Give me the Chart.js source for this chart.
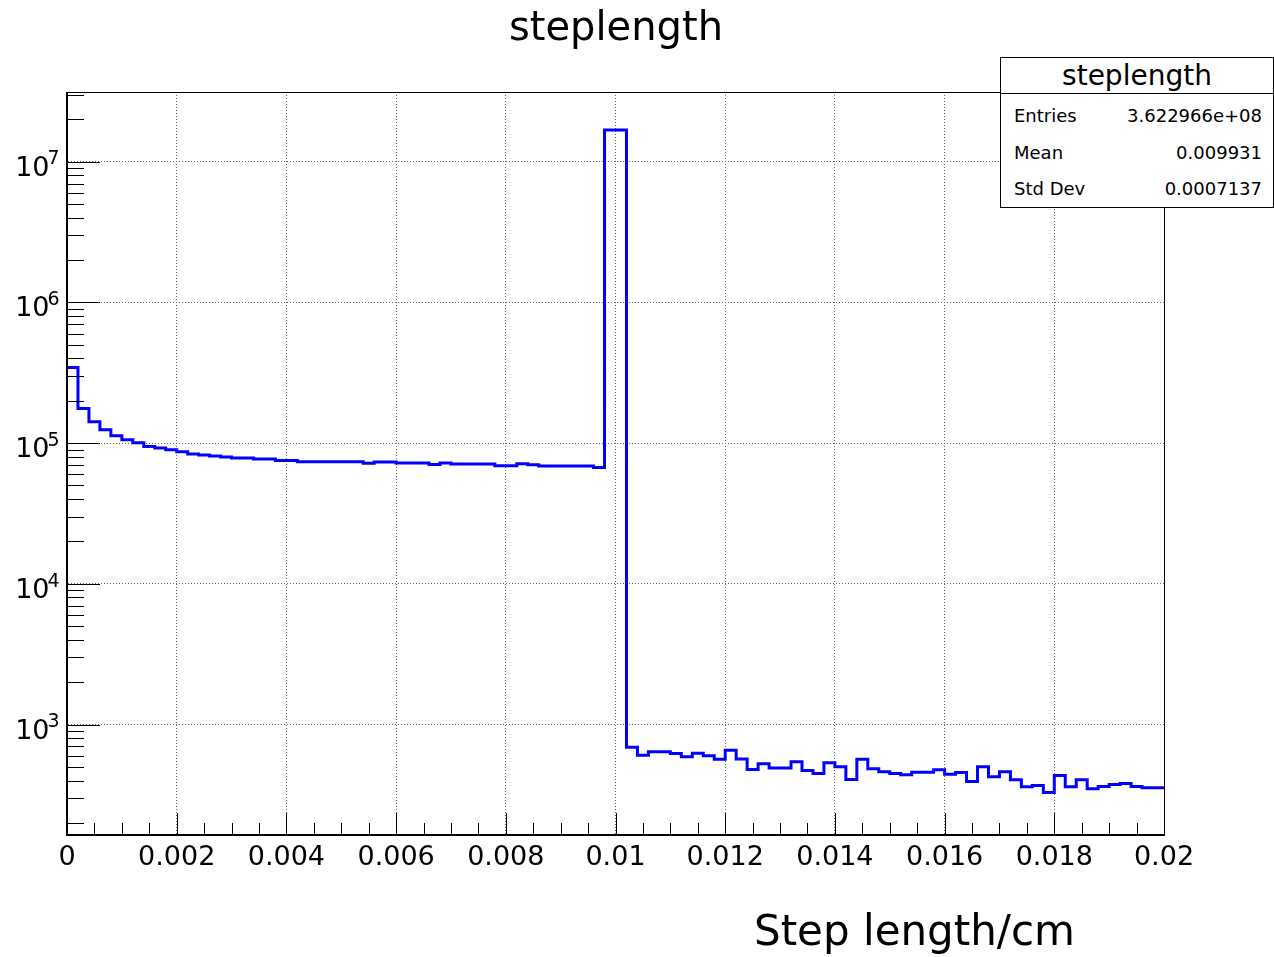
<!DOCTYPE html>
<html>
<head>
<meta charset="utf-8">
<script src="https://cdn.jsdelivr.net/npm/chart.js@4/dist/chart.umd.min.js"></script>
<style>
  body { margin: 0; background: #fff; }
  #wrap { position: relative; width: 1274px; height: 957px; font-family: "DejaVu Sans", sans-serif; color: #000; }
  #wrap canvas { position: absolute; left: 0; top: 0; }
  .txt { position: absolute; white-space: nowrap; line-height: 1; }
  #stats { position: absolute; left: 1000px; top: 57px; width: 274px; height: 151px; box-sizing: border-box;
           border: 1px solid #000; background: #fff; }
  #stats .head { height: 35px; line-height: 35px; font-size: 28px; text-align: center; border-bottom: 1px solid #000; }
  #stats .row { position: absolute; left: 13px; right: 11px; font-size: 18px; line-height: 19px; }
  #stats .row span { float: right; }
</style>
</head>
<body>
<div id="wrap">
  <canvas id="myChart" width="1274" height="957"></canvas>
  <div class="txt" style="left:416px; width:400px; top:6px; font-size:40px; text-align:center;">steplength</div>
  <div class="txt" style="left:0; width:1075px; top:910px; font-size:42px; text-align:right;">Step length/cm</div>
  <div id="stats">
    <div class="head">steplength</div>
    <div class="row" style="top:48px">Entries<span>3.622966e+08</span></div>
    <div class="row" style="top:85px">Mean<span>0.009931</span></div>
    <div class="row" style="top:121px">Std Dev<span>0.0007137</span></div>
  </div>
</div>
<script>
// histogram: 100 bins from 0 to 0.02 cm
const binWidth = 0.0002
const counts = [
  345000, 176000, 142000, 124500, 113000, 105700, 100600, 94800, 92300, 89800,
  86900, 83700, 82300, 80900, 79700, 78400, 78400, 77100, 77100, 75400,
  75400, 73800, 73800, 73800, 73800, 73800, 73800, 71800, 73400, 73400,
  72200, 72200, 72200, 70600, 72200, 71100, 71100, 71100, 71100, 69100,
  69100, 71400, 70300, 68800, 68800, 68800, 68800, 68800, 67200, 16800000,
  16800000, 690, 605, 640, 640, 622, 590, 625, 600, 567,
  657, 570, 479, 526, 490, 490, 543, 471, 449, 535,
  501, 407, 567, 485, 461, 449, 439, 458, 458, 477,
  444, 456, 394, 501, 425, 461, 405, 361, 369, 329,
  434, 361, 405, 349, 363, 375, 381, 363, 355, 355
]
const xTickValues = [0, 0.002, 0.004, 0.006, 0.008, 0.01, 0.012, 0.014, 0.016, 0.018, 0.02]
const xTickLabels = ['0', '0.002', '0.004', '0.006', '0.008', '0.01', '0.012', '0.014', '0.016', '0.018', '0.02']
const yTickExponents = [3, 4, 5, 6, 7]

const xMin = 0, xMax = 0.02
const yMin = 164, yMax = 3.13e7

// step points at the lower edge of every bin, plus the upper edge of the last one
const points = counts.map((c, i) => ({ x: i * binWidth, y: c }))
points.push({ x: counts.length * binWidth, y: counts[counts.length - 1] })

const FONT = '"DejaVu Sans", sans-serif'

// ROOT style frame: inward ticks, log labels with superscripts, closed box
const rootFrame = {
  id: 'rootFrame',
  afterDraw(chart) {
    const { ctx, chartArea: a, scales: { x, y } } = chart
    ctx.save()
    ctx.strokeStyle = '#000'
    ctx.lineWidth = 1
    // x ticks: major every 0.002, minor every 0.0005
    for (let i = 0; i <= 40; i++) {
      const px = Math.round(x.getPixelForValue(i * 0.0005)) + 0.5
      const len = i % 4 === 0 ? 22 : 12
      ctx.beginPath()
      ctx.moveTo(px, a.bottom)
      ctx.lineTo(px, a.bottom - len)
      ctx.stroke()
    }
    // y ticks: decades long, 2..9 short
    for (let e = 2; e <= 7; e++) {
      for (let k = 1; k <= 9; k++) {
        const v = k * Math.pow(10, e)
        if (v < yMin || v > yMax) continue
        const py = Math.round(y.getPixelForValue(v)) + 0.5
        ctx.beginPath()
        ctx.moveTo(a.left, py)
        ctx.lineTo(a.left + (k === 1 ? 33 : 17), py)
        ctx.stroke()
      }
    }
    ctx.strokeRect(Math.round(a.left) + 0.5, Math.round(a.top) + 0.5, Math.round(a.width), Math.round(a.height))
    ctx.lineWidth = 2
    ctx.beginPath()
    ctx.moveTo(a.left, a.top)
    ctx.lineTo(a.left, a.bottom)
    ctx.lineTo(a.right, a.bottom)
    ctx.stroke()

    // y labels 10^n
    ctx.fillStyle = '#000'
    ctx.textBaseline = 'alphabetic'
    yTickExponents.forEach(e => {
      const py = y.getPixelForValue(Math.pow(10, e))
      ctx.font = '27px ' + FONT
      ctx.textAlign = 'right'
      ctx.fillText('10', 49.5, py + 14)
      ctx.font = '19px ' + FONT
      ctx.textAlign = 'left'
      ctx.fillText(String(e), 47.5, py + 2.7)
    })
    ctx.restore()
  }
}

const ctx = document.getElementById('myChart')
const myChart = new Chart(ctx, {
  type: 'line',
  data: {
    datasets: [{
      label: 'steplength',
      data: points,
      stepped: 'before',
      borderColor: '#0000ff',
      borderWidth: 3,
      pointRadius: 0,
      fill: false
    }]
  },
  options: {
    responsive: false,
    animation: false,
    devicePixelRatio: 1,
    layout: { padding: { top: 92, right: 110, left: 0, bottom: 0 } },
    plugins: { legend: { display: false }, tooltip: { enabled: false }, title: { display: false } },
    scales: {
      x: {
        type: 'linear',
        min: xMin,
        max: xMax,
        afterBuildTicks: axis => { axis.ticks = xTickValues.map(v => ({ value: v })) },
        afterFit: axis => { axis.height = 122 },
        ticks: {
          autoSkip: false,
          maxRotation: 0,
          padding: 7,
          color: '#000',
          font: { family: FONT, size: 27 },
          callback: (value, index) => xTickLabels[index]
        },
        grid: {
          drawTicks: false,
          lineWidth: 1,
          color: c => (c.tick && c.tick.value > xMin && c.tick.value < xMax) ? '#666' : 'rgba(0,0,0,0)'
        },
        border: { display: true, color: '#000', dash: [1, 2] }
      },
      y: {
        type: 'logarithmic',
        min: yMin,
        max: yMax,
        afterBuildTicks: axis => { axis.ticks = yTickExponents.map(e => ({ value: Math.pow(10, e) })) },
        afterFit: axis => { axis.width = 67 },
        ticks: { display: false },
        grid: { drawTicks: false, lineWidth: 1, color: '#666' },
        border: { display: true, color: '#000', dash: [1, 2] }
      }
    }
  },
  plugins: [rootFrame]
})
</script>
</body>
</html>
